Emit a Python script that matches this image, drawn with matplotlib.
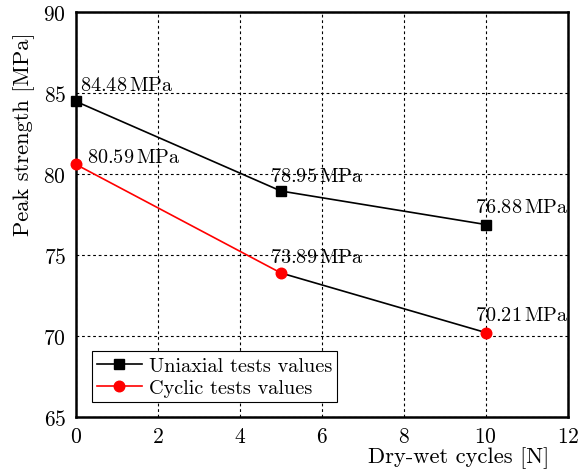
import matplotlib
matplotlib.use("Agg")
import matplotlib.pyplot as plt

plt.rcParams['font.family'] = ['cmr10', 'DejaVu Serif']
plt.rcParams['mathtext.fontset'] = 'cm'
plt.rcParams['axes.formatter.use_mathtext'] = True

cycles = [0, 5, 10]
uniaxial = [84.48, 78.95, 76.88]
cyclic = [80.59, 73.89, 70.21]
xticks = [0, 2, 4, 6, 8, 10, 12]
yticks = [65, 70, 75, 80, 85, 90]

uni_offsets = [(3, 5), (-8, 4), (-8, 6)]
cyc_offsets = [(8, -1), (-8, 5), (-8, 6)]

fs_tick = 15.5
fs_ann = 14.6
fs_leg = 14.6
fs_lab = 16.2
fig = plt.figure(figsize=(5.8, 4.77), dpi=100)
ax = fig.add_axes([0.131, 0.1237, 0.848, 0.849])

lw = 1.2
ax.plot(cycles, uniaxial, color='black', lw=lw, marker='s', ms=7.2,
        label='Uniaxial tests values', zorder=4, clip_on=False)
ax.plot(cycles[:2], cyclic[:2], color='red', lw=lw, zorder=3)
ax.plot(cycles[1:], cyclic[1:], color='black', lw=lw, zorder=3)
ax.plot(cycles, cyclic, color='red', lw=0, marker='o', ms=7.6, zorder=4, clip_on=False)
ax.plot([], [], color='red', lw=lw, marker='o', ms=7.6, label='Cyclic tests values')

for x, y, off in zip(cycles, uniaxial, uni_offsets):
    ax.annotate(r'$%.2f\,\mathrm{MPa}$' % y, (x, y), xytext=off, textcoords='offset points',
                ha='left', va='bottom', fontsize=fs_ann, zorder=5)
for x, y, off in zip(cycles, cyclic, cyc_offsets):
    ax.annotate(r'$%.2f\,\mathrm{MPa}$' % y, (x, y), xytext=off, textcoords='offset points',
                ha='left', va='bottom', fontsize=fs_ann, zorder=5)

ax.set_xlim(0, 12)
ax.set_ylim(65, 90)
ax.set_xticks(xticks)
ax.set_yticks(yticks)
ax.tick_params(length=0, labelsize=fs_tick, pad=7)
ax.grid(True, color='black', linestyle=(0, (2.5, 2.5)), lw=0.8)
for s in ax.spines.values():
    s.set_linewidth(1.8)

fig.text(549/580, 1 - 458/477, 'Dry-wet cycles [N]', ha='right', va='center', fontsize=fs_lab)
fig.text(24/580, 1 - 33/477, 'Peak strength [MPa]', ha='center', va='top', rotation=90, fontsize=fs_lab)

leg = ax.legend(loc='lower left', bbox_to_anchor=((92 - 76) / 492, (418 - 403) / 405), fontsize=fs_leg,
                frameon=True, fancybox=False, edgecolor='black', framealpha=1, handlelength=2.2,
                borderpad=0.25, labelspacing=0.2, handletextpad=0.35, borderaxespad=0)
leg.get_frame().set_linewidth(0.8)

fig.savefig('out.png', dpi=100)
